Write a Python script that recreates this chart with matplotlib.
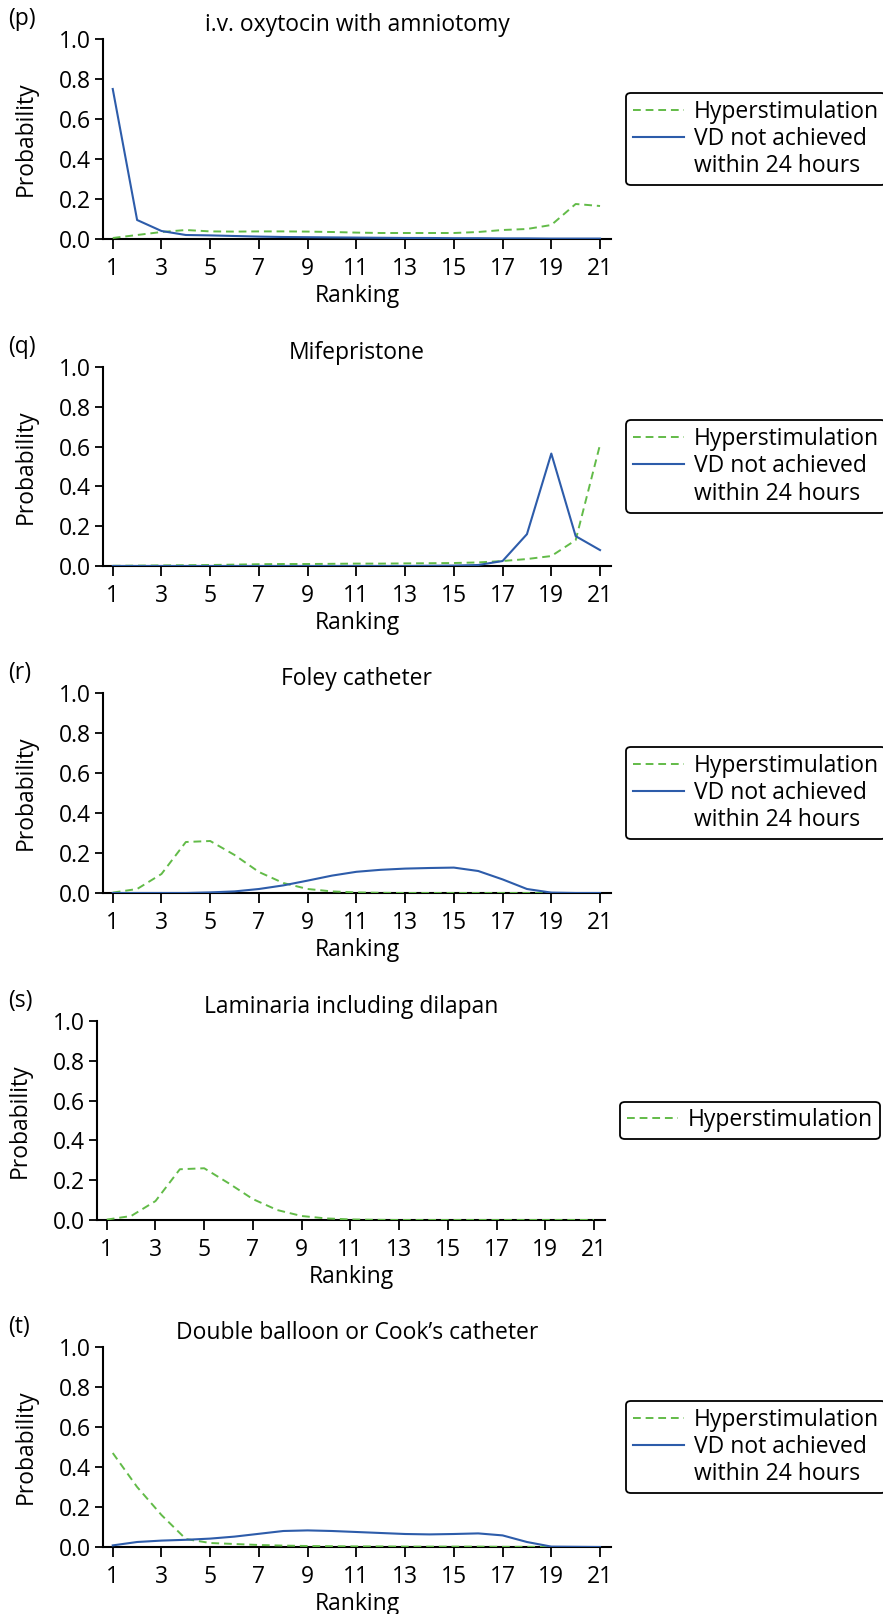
"""Ranking probabilities for hyperstimulation and VD not achieved within 24 hours."""

from matplotlib import pyplot as plt
from matplotlib.lines import Line2D

plt.rcParams['font.family'] = ['Open Sans', 'DejaVu Sans']

ranks = list(range(1, 22))
rank_ticks = list(range(1, 22, 2))
y_ticks = [0.0, 0.2, 0.4, 0.6, 0.8, 1.0]

panel_letters = ['(p)', '(q)', '(r)', '(s)', '(t)']
panel_titles = ['i.v. oxytocin with amniotomy', 'Mifepristone', 'Foley catheter',
                'Laminaria including dilapan', "Double balloon or Cook\u2019s catheter"]

hyper_p = [0.005, 0.02, 0.035, 0.045, 0.038, 0.037, 0.038, 0.038, 0.037, 0.035, 0.032,
           0.03, 0.03, 0.03, 0.03, 0.035, 0.045, 0.05, 0.07, 0.175, 0.165]
vd_p = [0.75, 0.095, 0.04, 0.02, 0.018, 0.015, 0.012, 0.01, 0.009, 0.008, 0.007,
        0.006, 0.005, 0.005, 0.004, 0.004, 0.003, 0.003, 0.002, 0.002, 0.002]

hyper_q = [0.001, 0.002, 0.003, 0.004, 0.005, 0.007, 0.009, 0.01, 0.01, 0.011, 0.012,
           0.012, 0.013, 0.014, 0.015, 0.018, 0.025, 0.035, 0.05, 0.13, 0.61]
vd_q = [0.0, 0.0, 0.0, 0.0, 0.0, 0.0, 0.0, 0.0, 0.0, 0.0, 0.0,
        0.0, 0.0, 0.001, 0.002, 0.005, 0.025, 0.16, 0.565, 0.15, 0.08]

hyper_r = [0.002, 0.02, 0.095, 0.255, 0.26, 0.19, 0.105, 0.05, 0.02, 0.008, 0.003,
           0.001, 0.0, 0.0, 0.0, 0.0, 0.0, 0.0, 0.0, 0.0, 0.0]
vd_r = [0.0, 0.0, 0.0, 0.0, 0.003, 0.008, 0.02, 0.038, 0.062, 0.087, 0.106,
        0.116, 0.122, 0.125, 0.127, 0.11, 0.068, 0.02, 0.002, 0.0, 0.0]

hyper_s = [0.002, 0.02, 0.095, 0.255, 0.26, 0.185, 0.105, 0.05, 0.02, 0.008, 0.003,
           0.001, 0.0, 0.0, 0.0, 0.0, 0.0, 0.0, 0.0, 0.0, 0.0]

hyper_t = [0.47, 0.3, 0.16, 0.04, 0.02, 0.015, 0.01, 0.007, 0.005, 0.004, 0.003,
           0.003, 0.002, 0.002, 0.002, 0.002, 0.001, 0.001, 0.0, 0.0, 0.0]
vd_t = [0.008, 0.025, 0.032, 0.036, 0.042, 0.052, 0.066, 0.08, 0.083, 0.08, 0.075,
        0.07, 0.065, 0.063, 0.065, 0.068, 0.058, 0.025, 0.002, 0.001, 0.0]

hyper_all = [hyper_p, hyper_q, hyper_r, hyper_s, hyper_t]
vd_all = [vd_p, vd_q, vd_r, None, vd_t]

GREEN = '#62bb48'
BLUE = '#2d5caa'
FS = 16.5

W, H = 883, 1614
# left, right, top, bottom of each plot area in pixels
boxes = [(103, 611, 39, 239), (103, 611, 367, 566), (103, 611, 693, 893),
         (97, 605, 1021, 1220), (103, 611, 1347, 1547)]


def main():
    fig = plt.figure(figsize=(W / 100, H / 100), dpi=100)
    for i in range(5):
        l, r, t, b = boxes[i]
        ax = fig.add_axes([l / W, 1 - b / H, (r - l) / W, (b - t) / H])
        ax.plot(ranks, hyper_all[i], color=GREEN, ls=(0, (4, 2.5)), lw=1.4, zorder=3)
        handles = [Line2D([], [], color=GREEN, ls=(0, (4, 2.5)), lw=1.4)]
        labels = ['Hyperstimulation']
        if vd_all[i] is not None:
            ax.plot(ranks, vd_all[i], color=BLUE, lw=1.5, zorder=3)
            handles += [Line2D([], [], color=BLUE, lw=1.5), Line2D([], [], lw=0)]
            labels += ['VD not achieved', 'within 24 hours']
        ax.set_xlim(0.6, 21.45)
        ax.set_ylim(0, 1.0)
        ax.set_xticks(rank_ticks)
        ax.set_yticks(y_ticks)
        ax.set_yticklabels(['{:.1f}'.format(v) for v in y_ticks])
        ax.spines['top'].set_visible(False)
        ax.spines['right'].set_visible(False)
        for s in ['left', 'bottom']:
            ax.spines[s].set_linewidth(1.5)
        ax.tick_params(direction='out', length=6, width=1.3, labelsize=FS, pad=3)
        ax.tick_params(axis='x', length=7, pad=6)
        ax.set_xlabel('Ranking', fontsize=FS, labelpad=2)
        ax.set_ylabel('Probability', fontsize=FS, labelpad=15)
        ax.set_title(panel_titles[i], fontsize=FS, pad=6)
        ax.text(8 / W, 1 - (t - 20) / H, panel_letters[i], transform=fig.transFigure,
                fontsize=FS, ha='left', va='center')
        leg = ax.legend(handles, labels, loc='center left', bbox_to_anchor=(1.03, 0.5),
                        fontsize=FS, frameon=True, fancybox=True, handlelength=2.2,
                        handletextpad=0.45, labelspacing=0.15, borderpad=0.3,
                        borderaxespad=0)
        frame = leg.get_frame()
        frame.set_edgecolor('black')
        frame.set_linewidth(1.3)
        frame.set_alpha(1)
    fig.savefig('out.png', dpi=100)


if __name__ == "__main__":
    main()
